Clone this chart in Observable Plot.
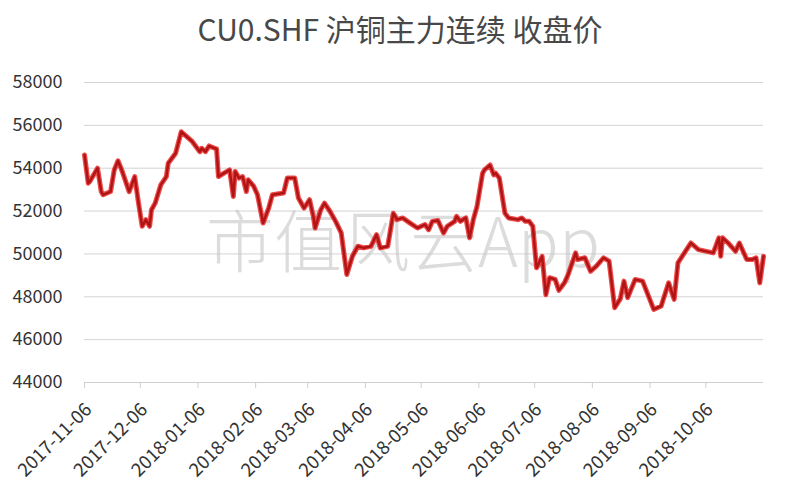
<!DOCTYPE html>
<html>
<head>
<meta charset="utf-8">
<script src="https://cdn.jsdelivr.net/npm/d3@7"></script>
<script src="https://cdn.jsdelivr.net/npm/@observablehq/plot@0.6"></script>
<style>
  html, body { margin: 0; padding: 0; background: #fff; }
  #title { height: 55px; line-height: 57px; text-align: center; font-family: "Noto Sans CJK SC", "Noto Sans", sans-serif; font-size: 30px; color: #484848; white-space: nowrap; }
  #chart svg { display: block; }
</style>
</head>
<body>
<div id="title"></div>
<div id="chart"></div>
<script>
const titleText = "CU0.SHF 沪铜主力连续 收盘价";
const watermark = "市值风云App";

const dates = [
  "2017-11-06","2017-11-08","2017-11-09","2017-11-13","2017-11-15","2017-11-16","2017-11-20","2017-11-22","2017-11-24","2017-11-26",
  "2017-11-30","2017-12-03","2017-12-05","2017-12-07","2017-12-09","2017-12-11","2017-12-12","2017-12-14","2017-12-17","2017-12-20",
  "2017-12-21","2017-12-25","2017-12-28","2017-12-31","2018-01-03","2018-01-07","2018-01-08","2018-01-10","2018-01-12","2018-01-15",
  "2018-01-16","2018-01-17","2018-01-20","2018-01-23","2018-01-25","2018-01-26","2018-01-28","2018-01-30","2018-02-01","2018-02-02",
  "2018-02-05","2018-02-07","2018-02-10","2018-02-13","2018-02-15","2018-02-21","2018-02-23","2018-02-27","2018-03-01","2018-03-04",
  "2018-03-07","2018-03-09","2018-03-10","2018-03-13","2018-03-15","2018-03-18","2018-03-21","2018-03-24","2018-03-27","2018-03-30",
  "2018-04-02","2018-04-05","2018-04-09","2018-04-12","2018-04-14","2018-04-18","2018-04-21","2018-04-23","2018-04-26","2018-04-30",
  "2018-05-04","2018-05-08","2018-05-10","2018-05-12","2018-05-15","2018-05-18","2018-05-20","2018-05-24","2018-05-25","2018-05-27",
  "2018-05-30","2018-06-01","2018-06-03","2018-06-05","2018-06-08","2018-06-09","2018-06-12","2018-06-14","2018-06-15","2018-06-17",
  "2018-06-20","2018-06-22","2018-06-27","2018-06-29","2018-07-01","2018-07-03","2018-07-05","2018-07-07","2018-07-10","2018-07-12",
  "2018-07-14","2018-07-17","2018-07-19","2018-07-22","2018-07-24","2018-07-28","2018-07-29","2018-08-02","2018-08-05","2018-08-08",
  "2018-08-12","2018-08-15","2018-08-18","2018-08-21","2018-08-23","2018-08-25","2018-08-29","2018-09-02","2018-09-08","2018-09-12",
  "2018-09-16","2018-09-19","2018-09-21","2018-09-25","2018-09-28","2018-10-02","2018-10-10","2018-10-13","2018-10-14","2018-10-15",
  "2018-10-18","2018-10-22","2018-10-24","2018-10-28","2018-10-31","2018-11-02","2018-11-04","2018-11-06"
];
const closes = [
  54620,53300,53400,54000,52910,52760,52910,53920,54350,53920,
  52910,53610,52390,51290,51600,51290,52060,52370,53220,53610,
  54230,54700,55700,55470,55240,54770,54930,54770,55040,54930,
  54900,53610,53770,53920,52680,53850,53540,53610,52910,53460,
  53150,52760,51440,52140,52760,52840,53540,53540,52610,52140,
  52530,51750,51210,52060,52370,51980,51520,50980,49040,49890,
  50360,50280,50360,50900,50280,50360,51900,51600,51680,51440,
  51210,51370,51130,51520,51560,50980,51290,51520,51750,51520,
  51680,50750,51600,52220,53770,53920,54150,53690,53770,53540,
  51900,51680,51600,51680,51520,51520,51290,49350,49890,48100,
  48890,48810,48300,48650,49040,50050,49740,49820,49190,49420,
  49820,49660,47490,47900,48730,47960,48810,48730,47410,47570,
  48650,47880,49580,50120,50510,50200,50050,50750,49890,50750,
  50510,50120,50510,49740,49740,49820,48650,49890
];
const xTicks = ["2017-11-06","2017-12-06","2018-01-06","2018-02-06","2018-03-06","2018-04-06",
                "2018-05-06","2018-06-06","2018-07-06","2018-08-06","2018-09-06","2018-10-06"];
const yTicks = [44000,46000,48000,50000,52000,54000,56000,58000];
const xDomain = ["2017-11-06","2018-11-06"];

document.getElementById("title").textContent = titleText;

const parse = d3.utcParse("%Y-%m-%d");
const data = dates.map((d, i) => ({date: parse(d), close: closes[i]}));
const fmt = d3.utcFormat("%Y-%m-%d");

const chart = Plot.plot({
  width: 800,
  height: 445,
  marginLeft: 84,
  marginRight: 37,
  marginTop: 27,
  marginBottom: 118,
  style: {fontFamily: "'Noto Sans CJK SC', 'Noto Sans', sans-serif", fontSize: "15px", color: "#333", background: "#fff"},
  x: {type: "utc", domain: xDomain.map(parse)},
  y: {domain: [44000, 58000]},
  marks: [
    Plot.gridY(yTicks.slice(1), {stroke: "#d4d4d4", strokeOpacity: 1, strokeWidth: 1}),
    Plot.ruleY([44000], {stroke: "#cfcfcf", strokeWidth: 1.2}),
    Plot.text([watermark], {frameAnchor: "middle", dx: -21, dy: 13, fontSize: 68, fill: "#c4c4c4", fillOpacity: 0.6, fontWeight: 300, fontFamily: "'Noto Sans CJK SC', serif"}),
    Plot.axisY(yTicks, {tickSize: 0, tickPadding: 22, fontSize: 18, fill: "#333", tickFormat: d => String(d), label: null}),
    Plot.axisX(xTicks.map(parse), {tickSize: 6, stroke: "#cfcfcf", tickFormat: () => "", label: null}),
    Plot.axisX(xTicks.map(parse), {tickRotate: -45, tickSize: 0, tickPadding: 24, dx: 4, fill: "#333", fontSize: 18.5, tickFormat: fmt, label: null}),
    Plot.line(data, {x: "date", y: "close", stroke: "#e81e1e", strokeWidth: 5, strokeOpacity: 0.8, curve: "linear"}),
    Plot.line(data, {x: "date", y: "close", stroke: "#b01414", strokeWidth: 2.5, curve: "linear"})
  ]
});
document.getElementById("chart").appendChild(chart);
</script>
</body>
</html>
